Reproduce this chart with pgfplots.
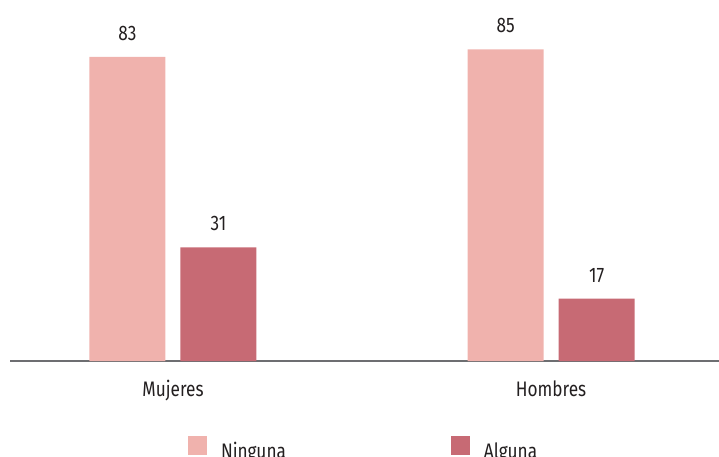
\documentclass[border=0pt]{standalone}
\usepackage{fontspec}
\setmainfont{Fira Sans}[FakeStretch=0.82]
\usepackage{pgfplots}
\pgfplotsset{compat=1.18}
\definecolor{ninguna}{HTML}{F0B2AD}
\definecolor{alguna}{HTML}{C76A74}
\definecolor{txt}{HTML}{231F20}
\definecolor{axisgray}{HTML}{6D6E71}
\newcommand{\lblfont}{\fontsize{21bp}{24bp}\selectfont}
\begin{document}
\begin{tikzpicture}
\begin{axis}[
  name=ax,
  scale only axis,
  width=709bp, height=361bp,
  xmin=-0.431, xmax=1.444, ymin=0, ymax=98.5,
  axis x line*=bottom,
  axis y line=none,
  x axis line style={axisgray, line width=1.6bp, -},
  xtick={0,1}, xticklabels={Mujeres,Hombres},
  major tick length=0pt,
  xticklabel style={font=\lblfont, text=txt, anchor=base, yshift=-35bp, inner sep=0pt},
  ybar=15bp, bar width=76bp,
  nodes near coords,
  /pgf/number format/assume math mode=true,
  every node near coord/.append style={font=\lblfont, text=txt, anchor=base, yshift=16.5bp, inner sep=0pt},
  legend columns=2,
  legend image code/.code={\fill[#1] (0bp,-4bp) rectangle (19bp,15bp);},
  legend style={draw=none, fill=none, inner sep=0pt, outer sep=0pt,
    at={(axis description cs:0,0)}, anchor=north west, xshift=178bp, yshift=-75bp,
    font=\lblfont, text=txt,
    nodes={inner sep=0pt},
    /tikz/every odd column/.append style={column sep=14bp},
    /tikz/every even column/.append style={column sep=165bp}},
]
\addplot[fill=ninguna, draw=none] coordinates {(0,83) (1,85)};
\addplot[fill=alguna, draw=none] coordinates {(0,31) (1,17)};
\legend{Ninguna, Alguna}
\end{axis}
\pgfresetboundingbox
\path[use as bounding box] ([shift={(-10bp,-96bp)}]ax.south west) rectangle (ax.north east);
\end{tikzpicture}
\end{document}
